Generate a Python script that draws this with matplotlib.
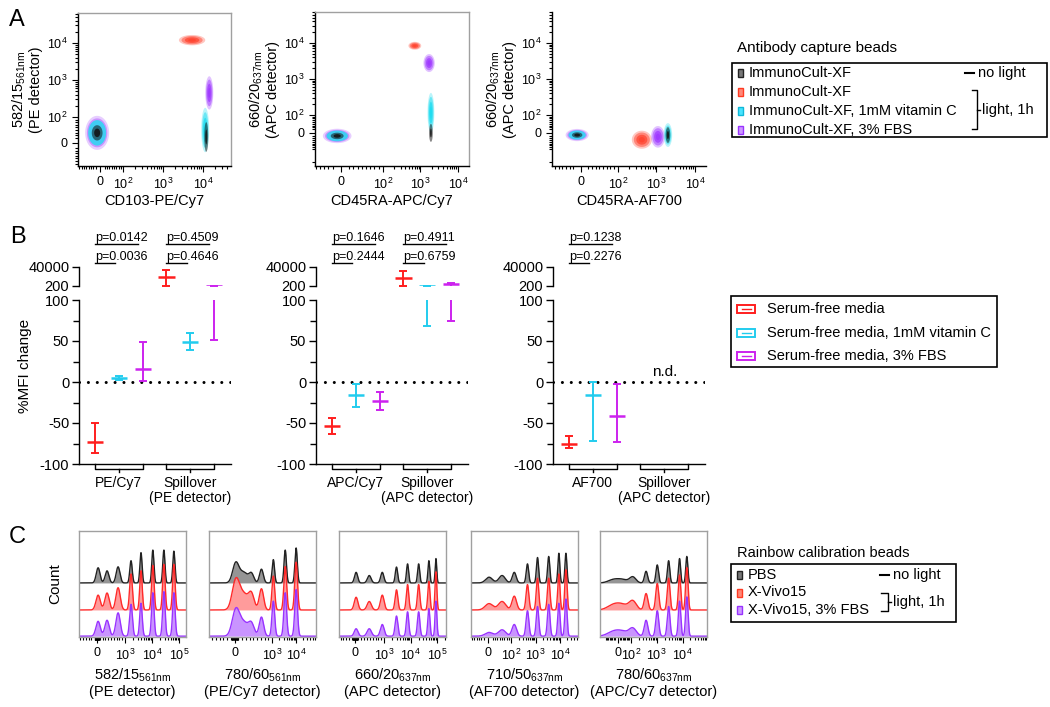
import numpy as np
import matplotlib
matplotlib.use('Agg')
import matplotlib.pyplot as plt
from matplotlib.patches import Rectangle
from matplotlib.transforms import blended_transform_factory

plt.rcParams['font.family'] = ['Liberation Sans', 'DejaVu Sans']
plt.rcParams['mathtext.fontset'] = 'custom'
plt.rcParams['mathtext.rm'] = 'Liberation Sans'
plt.rcParams['mathtext.it'] = 'Liberation Sans:italic'
plt.rcParams['mathtext.bf'] = 'Liberation Sans:bold'
plt.rcParams['axes.linewidth'] = 1.0
plt.rcParams['axes.unicode_minus'] = False

W, H = 1050, 707

# ---------------- datos panel A (centros de las poblaciones, unidades de fluorescencia)
a_xlabels = ['CD103-PE/Cy7', 'CD45RA-APC/Cy7', 'CD45RA-AF700']
a_ylabels = ['582/15$_{\\mathrm{561nm}}$\n(PE detector)',
             '660/20$_{\\mathrm{637nm}}$\n(APC detector)',
             '660/20$_{\\mathrm{637nm}}$\n(APC detector)']
a_groups = ['neg', 'red', 'purple', 'cyan', 'black']
a1_x = [-13, 5300, 14300, 11300, 12000]
a1_y = [39, 12000, 450, 50, 23]
a2_x = [-9, 710, 1700, 1900, 1900]
a2_y = [-17, 8300, 2750, 115, 0]
a3_x = [-10, 420, 1100, 2000, 2000]
a3_y = [-12, -38, -22, -12, -12]
a_ticks = [0, 1e2, 1e3, 1e4]
a_ticklabels = ['0', '$10^2$', '$10^3$', '$10^4$']

# ---------------- datos panel B (%MFI change)
b_cats = [['PE/Cy7', 'Spillover\n(PE detector)'],
          ['APC/Cy7', 'Spillover\n(APC detector)'],
          ['AF700', 'Spillover\n(APC detector)']]
b_mean = [[-73, 5, 16, 2100, 49, 210],
          [-54, -16, -23, 1600, 205, 300],
          [-75, -16, -41]]
b_hi = [[-50, 7, 49, 16500, 60, 215],
        [-44, -3, -12, 12000, 207, 400],
        [-66, 0, -2]]
b_lo = [[-87, 3, 1, 205, 39, 51],
        [-63, -30, -34, 205, 68, 74],
        [-80, -72, -73]]
b_pvals = [[('p=0.0142', 'p=0.0036'), ('p=0.4509', 'p=0.4646')],
           [('p=0.1646', 'p=0.2444'), ('p=0.4911', 'p=0.6759')],
           [('p=0.1238', 'p=0.2276')]]
b_legend = ['Serum-free media', 'Serum-free media, 1mM vitamin C', 'Serum-free media, 3% FBS']

# ---------------- datos panel C (picos de las rainbow beads)
c_xlabels = ['582/15$_{\\mathrm{561nm}}$\n(PE detector)',
             '780/60$_{\\mathrm{561nm}}$\n(PE/Cy7 detector)',
             '660/20$_{\\mathrm{637nm}}$\n(APC detector)',
             '710/50$_{\\mathrm{637nm}}$\n(AF700 detector)',
             '780/60$_{\\mathrm{637nm}}$\n(APC/Cy7 detector)']
c_ticks = [[0, 1e3, 1e4, 1e5], [0, 1e3, 1e4], [0, 1e3, 1e4, 1e5],
           [0, 1e2, 1e3, 1e4], [0, 1e2, 1e3, 1e4]]
c_peaks = [[38, 356, 750, 1660, 3890, 10700, 27500, 64600],
           [26, 237, 448, 712, 1110, 3510, 10070],
           [34, 484, 930, 2900, 7650, 20200, 49500, 92000],
           [4, 60, 132, 462, 1200, 3470, 9100, 17800],
           [-31, 39, 120, 389, 1050, 2880, 7600, 14500]]
c_pbs = [[0.143, 0.114, 0.152, 0.21, 0.286, 0.31, 0.31, 0.30],
         [0.18, 0.10, 0.08, 0.13, 0.22, 0.31, 0.33],
         [0.10, 0.07, 0.10, 0.15, 0.18, 0.18, 0.21, 0.23],
         [0.054, 0.07, 0.10, 0.18, 0.24, 0.25, 0.28, 0.28],
         [0.03, 0.03, 0.055, 0.11, 0.17, 0.21, 0.23, 0.25]]
c_xvivo = [[0.14, 0.16, 0.21, 0.34, 0.37, 0.42, 0.43, 0.43],
           [0.26, 0.15, 0.13, 0.20, 0.32, 0.41, 0.45],
           [0.12, 0.08, 0.14, 0.19, 0.24, 0.24, 0.27, 0.36],
           [0.06, 0.08, 0.13, 0.24, 0.30, 0.30, 0.34, 0.38],
           [0.045, 0.045, 0.08, 0.155, 0.25, 0.30, 0.33, 0.40]]
c_fbs = [[0.14, 0.15, 0.22, 0.30, 0.31, 0.41, 0.42, 0.41],
         [0.23, 0.13, 0.10, 0.18, 0.33, 0.41, 0.44],
         [0.07, 0.07, 0.11, 0.19, 0.23, 0.23, 0.26, 0.33],
         [0.035, 0.06, 0.11, 0.24, 0.28, 0.30, 0.31, 0.35],
         [0.04, 0.04, 0.07, 0.15, 0.24, 0.28, 0.33, 0.37]]

# ---------------- estilos
A_COL = {'red': '#ff4632', 'purple': '#a03cff', 'cyan': '#1edcf0', 'black': '#111111'}
B_COL = ['#ff1e1e', '#22ccee', '#cc22ee']
C_LINE = ['#222222', '#ff2a2a', '#9933ff']
C_FILL = ['#8a8a8a', '#ff9090', '#c488ff']
GRAY = '#a0a0a0'


def rect(x0, y0, x1, y1):
    return [x0 / W, 1 - y1 / H, (x1 - x0) / W, (y1 - y0) / H]


def minor_list(lo, hi):
    vals = []
    for e in range(1, 6):
        for k in range(2, 10):
            for v in (k * 10 ** e, -k * 10 ** e):
                if lo < v < hi:
                    vals.append(v)
    return vals


def legend_axes(fig, x0, y0, x1, y1):
    lg = fig.add_axes(rect(x0, y0, x1, y1))
    lg.set_xlim(0, x1 - x0)
    lg.set_ylim(y1 - y0, 0)
    lg.axis('off')
    lg.add_patch(Rectangle((0, 0), x1 - x0, y1 - y0, fill=False, ec='k', lw=1.2, clip_on=False))
    return lg


### Panel A

a_scales = [  # (linthresh, linscale, lims) en x y en y
    ((100, 0.52, (-96, 50000)), (100, 0.63, (-89, 65000))),
    ((100, 1.0, (-62, 19500)), (100, 0.45, (-263, 72000))),
    ((100, 0.865, (-78, 19500)), (100, 0.45, (-263, 72000))),
]
a_spread = [
    [(0.30, 0.46), (0.33, 0.14), (0.10, 0.45), (0.10, 0.60), (0.05, 0.40)],
    [(0.38, 0.20), (0.17, 0.11), (0.15, 0.25), (0.09, 0.55), (0.05, 0.25)],
    [(0.30, 0.17), (0.26, 0.25), (0.18, 0.30), (0.11, 0.33), (0.06, 0.22)],
]


def blob(ax, cx, cy, sx, sy, color, layers):
    tx = ax.xaxis.get_transform()
    ty = ax.yaxis.get_transform()
    ux = tx.transform_non_affine(np.array([float(cx)]))[0]
    uy = ty.transform_non_affine(np.array([float(cy)]))[0]
    th = np.linspace(0, 2 * np.pi, 90)
    for k, al in layers:
        xs = tx.inverted().transform_non_affine(ux + k * sx * tx.linthresh * np.cos(th))
        ys = ty.inverted().transform_non_affine(uy + k * sy * ty.linthresh * np.sin(th))
        ax.fill(xs, ys, color=color, alpha=al, lw=0)


def panel_a(fig):
    boxes = [(78, 13, 231, 166), (315, 12, 469, 166), (552, 12, 706, 166)]
    data = [(a1_x, a1_y), (a2_x, a2_y), (a3_x, a3_y)]
    for i in range(3):
        ax = fig.add_axes(rect(*boxes[i]))
        (lx, sx, xl), (ly, sy, yl) = a_scales[i]
        ax.set_xscale('symlog', linthresh=lx, linscale=sx)
        ax.set_yscale('symlog', linthresh=ly, linscale=sy)
        ax.set_xticks(a_ticks, a_ticklabels)
        ax.set_yticks(a_ticks, a_ticklabels)
        ax.set_xticks(minor_list(*xl), minor=True)
        ax.set_yticks(minor_list(*yl), minor=True)
        ax.set_xlim(*xl)
        ax.set_ylim(*yl)
        ax.tick_params(which='both', direction='out', labelsize=9, width=0.8)
        ax.tick_params(which='major', length=4)
        ax.tick_params(which='minor', length=2)
        xs, ys = data[i]
        for j, g in enumerate(a_groups):
            wx, wy = a_spread[i][j]
            if g == 'neg':
                blob(ax, xs[j], ys[j], wx, wy, A_COL['purple'], [(1.0, 0.25), (0.85, 0.4)])
                blob(ax, xs[j], ys[j], wx, wy, A_COL['cyan'], [(0.75, 0.8)])
                blob(ax, xs[j], ys[j], wx, wy, A_COL['black'], [(0.45, 0.55), (0.25, 0.85)])
            elif g == 'black':
                blob(ax, xs[j], ys[j], wx, wy, A_COL[g], [(1.0, 0.5), (0.5, 0.8)])
            else:
                blob(ax, xs[j], ys[j], wx, wy, A_COL[g],
                     [(1.0, 0.3), (0.8, 0.5), (0.55, 0.75), (0.3, 0.95)])
        ax.set_xlabel(a_xlabels[i], fontsize=10.5, labelpad=2)
        ax.set_ylabel(a_ylabels[i], fontsize=10.5, labelpad=3, linespacing=1.1)
        for s in ('top', 'right'):
            if i == 2:
                ax.spines[s].set_visible(False)
            else:
                ax.spines[s].set_color(GRAY)
    fig.text(17 / W, 1 - 20 / H, 'A', fontsize=17, ha='center', va='center')

    # leyenda
    lg = legend_axes(fig, 732, 63, 1047, 137)
    lg.text(5, -15, 'Antibody capture beads', fontsize=11, va='center')
    fc = ['#777777', '#ff8878', '#48e4ff', '#cc99ff']
    ec = ['#222222', '#ff3a22', '#10b8d8', '#9933ff']
    names = ['ImmunoCult-XF', 'ImmunoCult-XF', 'ImmunoCult-XF, 1mM vitamin C', 'ImmunoCult-XF, 3% FBS']
    for k in range(4):
        yy = 10 + 19 * k
        lg.add_patch(Rectangle((6, yy - 4), 5, 8, fc=fc[k], ec=ec[k], lw=1))
        lg.text(17, yy, names[k], fontsize=10.5, va='center')
    lg.plot([233, 242], [10, 10], color='k', lw=1.5)
    lg.text(246, 10, 'no light', fontsize=10.5, va='center')
    lg.plot([240, 245, 245, 240], [27, 27, 66, 66], color='k', lw=1)
    lg.plot([245, 248], [47, 47], color='k', lw=1)
    lg.text(250, 47, 'light, 1h', fontsize=10.5, va='center')


### Panel B

def panel_b(fig):
    xstarts = [79, 316, 553]
    for i in range(3):
        x0 = xstarts[i]
        lo_ax = fig.add_axes(rect(x0, 300, x0 + 152, 464))
        up_ax = fig.add_axes(rect(x0, 267, x0 + 152, 286))
        for ax in (lo_ax, up_ax):
            ax.set_xlim(-0.67, 5.71)
            ax.spines['top'].set_visible(False)
            ax.spines['right'].set_visible(False)
            ax.set_xticks([])
            ax.tick_params(axis='y', direction='out', labelsize=10.5, width=1, length=5, pad=2)
        up_ax.spines['bottom'].set_visible(False)
        up_ax.set_yscale('log')
        up_ax.set_ylim(190, 40000)
        up_ax.set_yticks([200, 40000], ['200', '40000'])
        up_ax.minorticks_off()
        lo_ax.set_ylim(-100, 100)
        lo_ax.set_yticks([-100, -50, 0, 50, 100])
        lo_ax.set_yticks([-75, -25, 25, 75], minor=True)
        lo_ax.tick_params(axis='y', which='minor', length=4, width=1)
        lo_ax.axhline(0, color='k', lw=2.2, ls=(0, (0.01, 2.9)), dash_capstyle='round', zorder=1)

        means = b_mean[i]
        for j in range(len(means)):
            c = B_COL[j % 3]
            for ax in (lo_ax, up_ax):
                ax.errorbar(j, means[j], yerr=[[means[j] - b_lo[i][j]], [b_hi[i][j] - means[j]]],
                            fmt='none', ecolor=c, elinewidth=1.4, capsize=3, capthick=1.4, zorder=3)
                ax.hlines(means[j], j - 0.34, j + 0.34, color=c, lw=1.8, zorder=3)
        if i == 2:
            lo_ax.text(4, 12, 'n.d.', fontsize=11, ha='center', va='center')

        tr = blended_transform_factory(lo_ax.transData, lo_ax.transAxes)
        for g in range(2):
            a, m, b = 3 * g, 3 * g + 1, 3 * g + 2
            lo_ax.plot([a, a, b, b], [0, -0.032, -0.032, 0], color='k', lw=1,
                       transform=tr, clip_on=False)
            lo_ax.plot([m, m], [-0.032, -0.05], color='k', lw=1, transform=tr, clip_on=False)
            lo_ax.text(m, -0.075, b_cats[i][g], transform=tr, ha='center', va='top',
                       fontsize=10, linespacing=1.1)

        tru = blended_transform_factory(up_ax.transData, up_ax.transAxes)
        for g, (p1, p2) in enumerate(b_pvals[i]):
            a = 3 * g
            up_ax.plot([a, a + 1.8], [2.22, 2.22], color='k', lw=1, transform=tru, clip_on=False)
            up_ax.plot([a, a + 0.85], [1.22, 1.22], color='k', lw=1, transform=tru, clip_on=False)
            up_ax.text(a, 2.38, p1, transform=tru, fontsize=9, va='baseline')
            up_ax.text(a, 1.38, p2, transform=tru, fontsize=9, va='baseline')
        if i == 0:
            lo_ax.set_ylabel('%MFI change', fontsize=11)
            lo_ax.yaxis.set_label_coords(-0.31, 0.6)
    fig.text(18 / W, 1 - 237 / H, 'B', fontsize=17, ha='center', va='center')

    lg = legend_axes(fig, 731, 296, 997, 367)
    for k in range(3):
        yy = 13 + 23.5 * k
        lg.add_patch(Rectangle((6, yy - 4), 18, 8, fill=False, ec=B_COL[k], lw=1.4))
        lg.plot([10.5, 19.5], [yy, yy], color=B_COL[k], lw=1)
        lg.text(36, yy, b_legend[k], fontsize=10.5, va='center')


### Panel C

c_scales = [(1000, 0.936, (-644, 182000)), (1000, 1.42, (-685, 69000)),
            (1000, 1.0, (-552, 222000)), (100, 0.86, (-74, 56000)),
            (100, 0.46, (-146, 87000))]
c_widths = [[0.07, 0.07, 0.07, 0.045, 0.04, 0.04, 0.04, 0.04],
            [0.13, 0.18, 0.10, 0.08, 0.05, 0.05, 0.05],
            [0.06, 0.07, 0.06, 0.045, 0.04, 0.04, 0.035, 0.03],
            [0.14, 0.13, 0.08, 0.05, 0.045, 0.045, 0.04, 0.04],
            [0.2, 0.2, 0.12, 0.06, 0.05, 0.045, 0.04, 0.04]]


def hist_curve(ax, peaks, heights, widths, base, line_c, fill_c, wscale):
    tr = ax.xaxis.get_transform()
    t0, t1 = tr.transform_non_affine(np.array(ax.get_xlim(), float))
    t = np.linspace(t0, t1, 2500)
    x = tr.inverted().transform_non_affine(t)
    tp = tr.transform_non_affine(np.array(peaks, float))
    y = np.zeros_like(t)
    for p, h, w in zip(tp, heights, widths):
        y += h * np.exp(-0.5 * ((t - p) / (w * wscale * tr.linthresh)) ** 2)
    ax.fill_between(x, base, base + y, color=fill_c, lw=0, alpha=0.9)
    ax.plot(x, base + y, color=line_c, lw=1)


def panel_c(fig):
    xstarts = [79, 209, 339, 471, 600]
    for i in range(5):
        ax = fig.add_axes(rect(xstarts[i], 531, xstarts[i] + 107, 637))
        L, ls, xl = c_scales[i]
        ax.set_xscale('symlog', linthresh=L, linscale=ls)
        labs = ['0'] + ['$10^{%d}$' % int(round(np.log10(v))) for v in c_ticks[i][1:]]
        ax.set_xticks(c_ticks[i], labs)
        ax.set_xticks(minor_list(*xl), minor=True)
        ax.set_xlim(*xl)
        ax.set_ylim(0, 1)
        ax.set_yticks([])
        ax.tick_params(which='both', direction='out', labelsize=9, width=0.8)
        ax.tick_params(which='major', length=4)
        ax.tick_params(which='minor', length=2)
        for s in ax.spines.values():
            s.set_color(GRAY)
        bases = [0.51, 0.255, 0.008]
        series = [c_pbs[i], c_xvivo[i], c_fbs[i]]
        wsc = [1.0, 1.15, 1.15]
        for k in range(3):
            hist_curve(ax, c_peaks[i], series[k], c_widths[i], bases[k], C_LINE[k], C_FILL[k], wsc[k])
        ax.set_xlabel(c_xlabels[i], fontsize=10.5, labelpad=3, linespacing=1.1)
        if i == 0:
            ax.set_ylabel('Count', fontsize=11, labelpad=12)
    fig.text(17 / W, 1 - 537 / H, 'C', fontsize=17, ha='center', va='center')

    lg = legend_axes(fig, 731, 564, 956, 622)
    lg.text(6, -11, 'Rainbow calibration beads', fontsize=10.5, va='center')
    fc = ['#777777', '#ff8878', '#cc99ff']
    ec = ['#222222', '#ff3a22', '#9933ff']
    names = ['PBS', 'X-Vivo15', 'X-Vivo15, 3% FBS']
    for k in range(3):
        yy = 11 + 17.5 * k
        lg.add_patch(Rectangle((6, yy - 4), 5, 8, fc=fc[k], ec=ec[k], lw=1))
        lg.text(17, yy, names[k], fontsize=10.5, va='center')
    lg.plot([149, 158], [11, 11], color='k', lw=1.5)
    lg.text(162, 11, 'no light', fontsize=10.5, va='center')
    lg.plot([150, 157, 157, 150], [29, 29, 47, 47], color='k', lw=1)
    lg.plot([157, 160], [38, 38], color='k', lw=1)
    lg.text(162, 38, 'light, 1h', fontsize=10.5, va='center')


def main():
    fig = plt.figure(figsize=(W / 100, H / 100), dpi=100)
    panel_a(fig)
    panel_b(fig)
    panel_c(fig)
    fig.savefig('out.png', dpi=100)


if __name__ == '__main__':
    main()
